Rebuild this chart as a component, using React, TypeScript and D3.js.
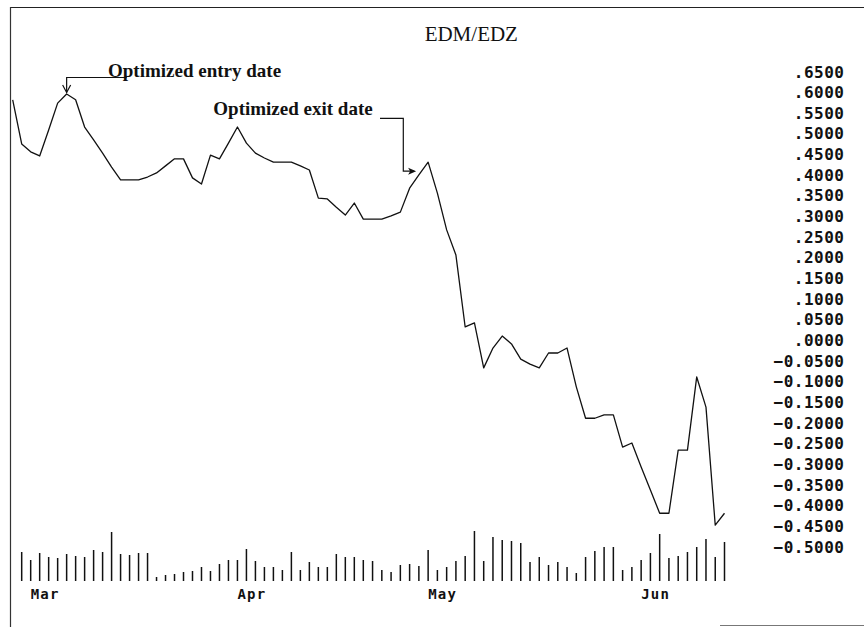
import React from "react";
import * as d3 from "d3";

const title = "EDM/EDZ";

// daily EDM/EDZ spread (index 0 = first day shown)
const spread: number[] = [
  0.582, 0.475, 0.456, 0.446, 0.509, 0.574, 0.596, 0.582, 0.516, 0.485,
  0.453, 0.419, 0.388, 0.388, 0.388, 0.395, 0.405, 0.422, 0.439, 0.439,
  0.393, 0.378, 0.448, 0.439, 0.477, 0.516, 0.477, 0.453, 0.441, 0.431,
  0.431, 0.431, 0.422, 0.412, 0.344, 0.342, 0.322, 0.303, 0.332, 0.293,
  0.293, 0.293, 0.301, 0.31, 0.368, 0.4, 0.431, 0.356, 0.267, 0.206,
  0.032, 0.042, -0.067, -0.019, 0.01, -0.009, -0.046, -0.058, -0.067, -0.031,
  -0.031, -0.019, -0.113, -0.189, -0.189, -0.181, -0.181, -0.259, -0.249, -0.307,
  -0.363, -0.419, -0.419, -0.266, -0.266, -0.089, -0.162, -0.448, -0.419,
];

// daily volume (relative units), aligned with spread
const volume: (number | null)[] = [
  null,
  29, 21, 28, 24, 23, 27, 25, 24, 31, 29, 49, 27, 26, 28, 28, 4, 6, 7, 9, 10,
  14, 10, 17, 21, 21, 32, 20, 14, 14, 11, 29, 11, 19, 14, 14, 27, 24, 24,
  21, 20, 11, 9, 16, 17, 15, 31, 11, 14, 20, 25, 50, 20, 44, 41, 40, 38, 19, 24,
  16, 19, 14, 8, 24, 30, 34, 34, 11, 14, 21, 28, 47, 23, 25, 29, 34, 42, 24, 39,
];

const yTicks: number[] = [
  0.65, 0.6, 0.55, 0.5, 0.45, 0.4, 0.35, 0.3, 0.25, 0.2, 0.15, 0.1, 0.05, 0,
  -0.05, -0.1, -0.15, -0.2, -0.25, -0.3, -0.35, -0.4, -0.45, -0.5,
];

const months: string[] = ["Mar", "Apr", "May", "Jun"];
const monthStartIdx: number[] = [2, 25, 46, 69];

const entryLabel = "Optimized entry date";
const exitLabel = "Optimized exit date";
const entryIdx = 6;
const exitIdx = 46;

const W = 864;
const H = 627;

export default function App() {
  const n = spread.length;
  const x = d3.scaleLinear().domain([0, 39, n - 1]).range([12.7, 363.3, 724.5]);
  const y = d3.scaleLinear().domain([-0.5, 0.65]).range([546.7, 71.7]);
  const v = d3.scaleLinear().domain([0, 50]).range([581, 531]);

  const line = d3
    .line<number>()
    .x((_, i) => x(i))
    .y((d) => y(d));

  const fmt = (t: number) => {
    if (Math.abs(t) < 1e-9) return ".0000";
    if (t > 0) return d3.format(".4f")(t).replace(/^0/, "");
    return "\u2212" + d3.format(".4f")(-t);
  };

  const ex = x(entryIdx);
  const ey = y(spread[entryIdx]);
  const xx = x(exitIdx);
  const xy = y(spread[exitIdx]);
  const arrowTipX = xx - 12;
  const arrowY = xy + 9;

  return (
    <svg
      width={W}
      height={H}
      viewBox={`0 0 ${W} ${H}`}
      style={{ position: "absolute", left: 0, top: 0, background: "#fff" }}
    >
      <rect x={0} y={0} width={W} height={H} fill="#fff" />
      {/* frame */}
      <line x1={10} y1={7.5} x2={W} y2={7.5} stroke="#222" strokeWidth={1.2} />
      <line x1={10.5} y1={7} x2={10.5} y2={H} stroke="#333" strokeWidth={1.2} />
      <line x1={720} y1={625.5} x2={W} y2={625.5} stroke="#777" strokeWidth={1} />

      {/* title */}
      <text
        x={471.3}
        y={40.7}
        textAnchor="middle"
        fontFamily="'Liberation Serif', 'Times New Roman', serif"
        fontSize={21}
        fill="#111"
      >
        {title}
      </text>

      {/* volume bars */}
      <g stroke="#111" strokeWidth={1.5}>
        {volume.map((d, i) =>
          d == null ? null : (
            <line key={i} x1={x(i)} x2={x(i)} y1={v(0)} y2={v(d)} />
          )
        )}
      </g>

      {/* spread line */}
      <path d={line(spread) || ""} fill="none" stroke="#111" strokeWidth={1.3} strokeLinejoin="round" />

      {/* y axis labels */}
      <g
        fontFamily="'DejaVu Sans Mono', monospace"
        fontWeight="bold"
        fontSize={16}
        fill="#111"
        textAnchor="end"
      >
        {yTicks.map((t) => (
          <text key={t} x={844.5} y={y(t) + 5.8} letterSpacing={0.5}>
            {fmt(t)}
          </text>
        ))}
      </g>

      {/* month labels */}
      <g fontFamily="'DejaVu Sans Mono', monospace" fontWeight="bold" fontSize={14} fill="#111">
        {months.map((m, i) => (
          <text key={m} x={x(monthStartIdx[i])} y={598.5} letterSpacing={1.2}>
            {m}
          </text>
        ))}
      </g>

      {/* annotations */}
      <g fontFamily="'Liberation Serif', 'Times New Roman', serif" fontWeight="bold" fontSize={19} fill="#111">
        <text x={108} y={77}>{entryLabel}</text>
        <text x={213.3} y={114.5}>{exitLabel}</text>
      </g>
      <g stroke="#111" strokeWidth={1.2} fill="none">
        <polyline points={`126.7,77.5 ${ex},77.5 ${ex},${ey - 1.5}`} />
        <polyline points={`${ex - 4},${ey - 9} ${ex},${ey - 1.5} ${ex + 4},${ey - 9}`} />
        <polyline points={`380,118.3 403.3,118.3 403.3,${arrowY} ${arrowTipX - 2},${arrowY}`} />
      </g>
      <path
        d={`M${arrowTipX},${arrowY} L${arrowTipX - 8},${arrowY - 3.5} L${arrowTipX - 6},${arrowY} L${arrowTipX - 8},${arrowY + 3.5} Z`}
        fill="#111"
      />
    </svg>
  );
}
